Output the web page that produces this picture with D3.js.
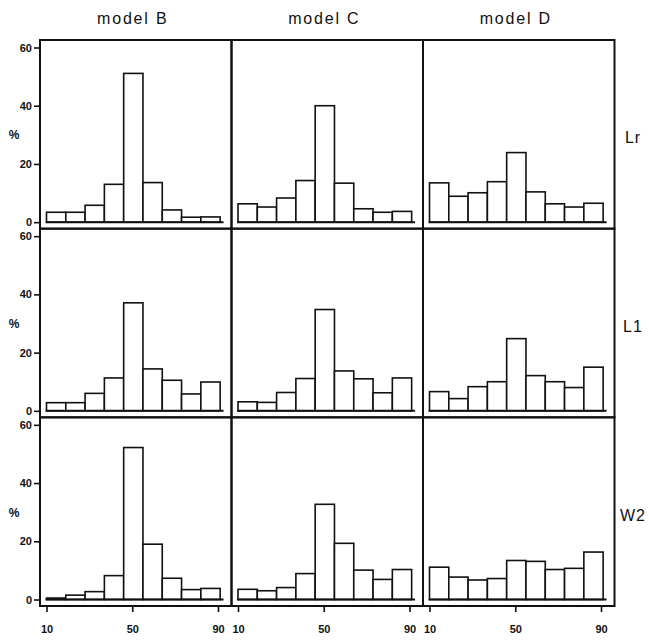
<!DOCTYPE html>
<html>
<head>
<meta charset="utf-8">
<script src="https://cdn.jsdelivr.net/npm/d3@7"></script>
<style>
  body { margin: 0; background: #fff; }
  svg text { font-family: "Liberation Sans", Arial, Helvetica, sans-serif; fill: #111; }
</style>
</head>
<body>
<div id="chart"></div>
<script>
// Panel grid: columns are models, rows are error measures
const models = ["model B", "model C", "model D"];
const measures = ["Lr", "L1", "W2"];

// Histogram bin edges (9 bins) and axis ticks
const binEdges = [10, 19, 28, 37, 46, 55, 64, 73, 82, 91];
const xTicks = [10, 50, 90];
const yTicks = [0, 20, 40, 60];

// Percentage of cases per bin
const lrB = [3.4, 3.4, 5.8, 13.0, 51.1, 13.6, 4.2, 1.7, 1.8];
const lrC = [6.3, 5.2, 8.3, 14.3, 40.0, 13.4, 4.6, 3.4, 3.7];
const lrD = [13.5, 8.9, 10.1, 13.9, 23.9, 10.4, 6.3, 5.2, 6.5];
const l1B = [2.8, 2.8, 6.0, 11.3, 37.1, 14.4, 10.5, 5.8, 9.9];
const l1C = [3.1, 2.9, 6.3, 11.1, 34.8, 13.7, 11.0, 6.2, 11.3];
const l1D = [6.6, 4.2, 8.3, 10.0, 24.8, 12.1, 10.0, 8.0, 15.0];
const w2B = [0.5, 1.5, 2.7, 8.2, 52.2, 19.0, 7.3, 3.4, 3.8];
const w2C = [3.5, 3.0, 4.1, 8.9, 32.7, 19.3, 10.1, 6.9, 10.3];
const w2D = [11.1, 7.7, 6.7, 7.2, 13.4, 13.1, 10.3, 10.7, 16.3];

const panelData = {
  "Lr": { "model B": lrB, "model C": lrC, "model D": lrD },
  "L1": { "model B": l1B, "model C": l1C, "model D": l1D },
  "W2": { "model B": w2B, "model C": w2C, "model D": w2D }
};

const W = 649, H = 640;
const svg = d3.select("#chart").append("svg")
  .attr("width", W).attr("height", H)
  .style("display", "block");

svg.append("rect").attr("width", W).attr("height", H).attr("fill", "#fff");

const col = d3.scaleBand().domain(models).range([40, 614.5]);
const row = d3.scaleBand().domain(measures).range([40, 606]);
const cw = col.bandwidth(), rh = row.bandwidth();

function panelScales(m, r) {
  const left = col(m), top = row(r);
  const x = d3.scaleLinear().domain([10, 90]).range([left + 6.5, left + cw - 13.5]);
  const y = d3.scaleLinear().domain([0, 60]).range([top + rh - 6.5, top + 7.5]);
  return { x, y, left, top };
}

const bins = d3.range(binEdges.length - 1).map(i => [binEdges[i], binEdges[i + 1]]);

measures.forEach((r, ri) => {
  models.forEach((m, ci) => {
    const { x, y, left, top } = panelScales(m, r);
    const values = panelData[r][m];
    const g = svg.append("g");

    // bars
    g.selectAll("rect.bar")
      .data(values)
      .join("rect")
      .attr("class", "bar")
      .attr("x", (d, i) => x(bins[i][0]))
      .attr("width", (d, i) => x(bins[i][1]) - x(bins[i][0]))
      .attr("y", d => y(d))
      .attr("height", d => y(0) - y(d))
      .attr("fill", "#fff")
      .attr("stroke", "#111")
      .attr("stroke-width", 1.6);

    // baseline under the bars
    g.append("line")
      .attr("x1", x(9.6)).attr("x2", x(92.6))
      .attr("y1", y(0)).attr("y2", y(0))
      .attr("stroke", "#111").attr("stroke-width", 2);

    // panel frame
    g.append("rect")
      .attr("x", left).attr("y", top)
      .attr("width", cw).attr("height", rh)
      .attr("fill", "none")
      .attr("stroke", "#111").attr("stroke-width", 2);

    // y axis on the first column
    if (ci === 0) {
      const ya = svg.append("g")
        .attr("transform", `translate(${left},0)`)
        .call(d3.axisLeft(y).tickValues(yTicks).tickSize(6).tickPadding(2));
      ya.select(".domain").remove();
      ya.selectAll(".tick line").attr("stroke", "#111").attr("stroke-width", 1.6);
      ya.selectAll(".tick text")
        .attr("font-family", "Liberation Sans, Arial, sans-serif")
        .attr("font-size", 11).attr("font-weight", "bold").attr("fill", "#111");

      svg.append("text")
        .attr("x", 14).attr("y", y(30) + 4.5)
        .attr("text-anchor", "middle")
        .attr("font-size", 12).attr("font-weight", "bold")
        .text("%");
    }

    // x axis on the bottom row
    if (ri === measures.length - 1) {
      const xa = svg.append("g")
        .attr("transform", `translate(0,${top + rh})`)
        .call(d3.axisBottom(x).tickValues(xTicks).tickSize(6).tickPadding(13));
      xa.select(".domain").remove();
      xa.selectAll(".tick line").attr("stroke", "#111").attr("stroke-width", 1.6);
      xa.selectAll(".tick text")
        .attr("font-family", "Liberation Sans, Arial, sans-serif")
        .attr("font-size", 11).attr("font-weight", "bold").attr("fill", "#111");
    }
  });
});

// column titles
svg.selectAll("text.coltitle")
  .data(models)
  .join("text")
  .attr("class", "coltitle")
  .attr("x", d => col(d) + cw / 2 - 4 + 1)
  .attr("y", 24)
  .attr("text-anchor", "middle")
  .attr("font-size", 16)
  .attr("letter-spacing", "1.8px")
  .text(d => d);

// row labels
svg.selectAll("text.rowlabel")
  .data(measures)
  .join("text")
  .attr("class", "rowlabel")
  .attr("x", 633)
  .attr("y", d => row(d) + rh / 2 + 9)
  .attr("text-anchor", "middle")
  .attr("font-size", 16)
  .attr("letter-spacing", "1px")
  .text(d => d);
</script>
</body>
</html>
